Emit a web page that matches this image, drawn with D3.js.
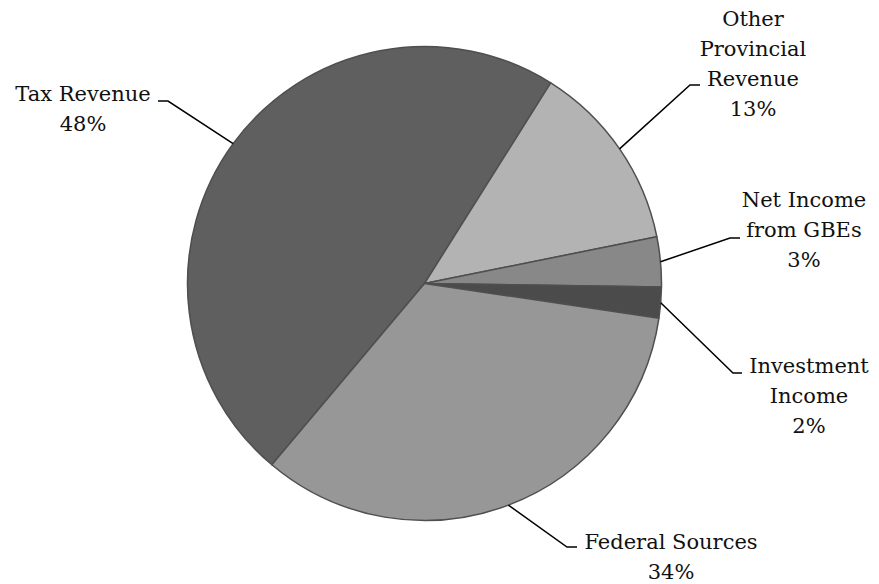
<html>
<head>
<script src="https://d3js.org/d3.v7.min.js"></script>
<style>
  body { margin: 0; background: #fff; }
  text { font-family: "DejaVu Serif", serif; font-size: 21px; fill: #111; }
</style>
</head>
<body>
<svg width="879" height="584"></svg>
<script>
// revenue shares (%), in drawing order starting at the Tax slice
const categories = ["Tax Revenue", "Other Provincial Revenue", "Net Income from GBEs", "Investment Income", "Federal Sources"];
const values = [47.8, 12.9, 3.4, 2.1, 33.8];
const labelLines = [["Tax Revenue"], ["Other", "Provincial", "Revenue"], ["Net Income", "from GBEs"], ["Investment", "Income"], ["Federal Sources"]];
const fills = ["#5f5f5f", "#b3b3b3", "#888888", "#4b4b4b", "#979797"];

// label layout: text centre x, first baseline y, elbow point, direction of the short tail
const labelPos = [
  { x: 83,  y: 101, ex: 168, ey: 101, tail: -10 },
  { x: 753, y: 26,  ex: 690, ey: 85,  tail: 10 },
  { x: 804, y: 207, ex: 730, ey: 238, tail: 10 },
  { x: 809, y: 373, ex: 733, ey: 373, tail: 9 },
  { x: 671, y: 549, ex: 567, ey: 547, tail: 10 }
];

const svg = d3.select("svg");
const cx = 424.5, cy = 283.5, r = 237;
const g = svg.append("g").attr("transform", `translate(${cx},${cy})`);

const start = 220.1 * Math.PI / 180;
const pie = d3.pie().sort(null).startAngle(start).endAngle(start + 2 * Math.PI);
const arcs = pie(values);
const arc = d3.arc().innerRadius(0).outerRadius(r);

g.selectAll("path.slice").data(arcs)
  .join("path")
  .attr("class", "slice")
  .attr("d", arc)
  .attr("fill", (d, i) => fills[i])
  .attr("stroke", "#4f4f4f")
  .attr("stroke-width", 1.5)
  .attr("stroke-linejoin", "round");

// leader lines from slice edge to label
svg.selectAll("polyline.leader").data(arcs)
  .join("polyline")
  .attr("class", "leader")
  .attr("fill", "none")
  .attr("stroke", "#000")
  .attr("stroke-width", 1.5)
  .attr("points", (d, i) => {
    const a = (d.startAngle + d.endAngle) / 2;
    const px = cx + r * Math.sin(a), py = cy - r * Math.cos(a);
    const p = labelPos[i];
    return `${px},${py} ${p.ex},${p.ey} ${p.ex + p.tail},${p.ey}`;
  });

const labels = svg.selectAll("text.lbl").data(arcs)
  .join("text")
  .attr("class", "lbl")
  .attr("text-anchor", "middle");

labels.each(function(d, i) {
  const t = d3.select(this);
  const p = labelPos[i];
  const lines = labelLines[i].concat([Math.round(values[i]) + "%"]);
  lines.forEach((s, k) => {
    t.append("tspan").attr("x", p.x).attr("y", p.y + k * 30).text(s);
  });
});
</script>
</body>
</html>
